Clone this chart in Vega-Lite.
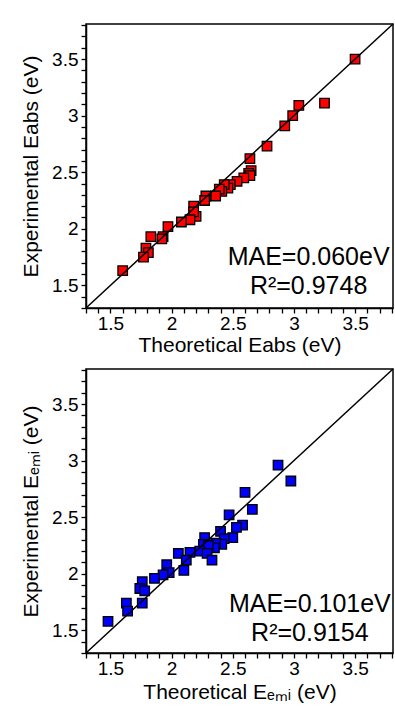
{
  "$schema": "https://vega.github.io/schema/vega-lite/v6.json",
  "autosize": {"type": "pad"},
  "padding": {"left": 19, "top": 15, "right": 2, "bottom": 2},
  "spacing": 4,
  "config": {
    "font": "Liberation Sans",
    "view": {"stroke": "black", "strokeWidth": 1.5},
    "axis": {
      "domainColor": "black", "domainWidth": 1.5,
      "tickColor": "black", "tickWidth": 1.3, "tickSize": 5,
      "labelFont": "Liberation Sans", "labelFontSize": 19, "labelColor": "black",
      "titleFont": "Liberation Sans", "titleFontSize": 21, "titleFontWeight": "normal", "titleColor": "black",
      "grid": false, "labelOverlap": false, "labelFlush": false, "labelBound": false, "tickCount": 100
    }
  },
  "vconcat": [
    {
      "width": 307,
      "height": 284,
      "layer": [
        {
          "data": {"values": [
            {"theoretical": 3.50, "experimental": 3.50},
            {"theoretical": 3.25, "experimental": 3.11},
            {"theoretical": 3.04, "experimental": 3.09},
            {"theoretical": 2.99, "experimental": 3.00},
            {"theoretical": 2.925, "experimental": 2.91},
            {"theoretical": 2.78, "experimental": 2.73},
            {"theoretical": 2.64, "experimental": 2.62},
            {"theoretical": 2.65, "experimental": 2.515},
            {"theoretical": 2.63, "experimental": 2.49},
            {"theoretical": 2.64, "experimental": 2.47},
            {"theoretical": 2.59, "experimental": 2.45},
            {"theoretical": 2.535, "experimental": 2.42},
            {"theoretical": 2.48, "experimental": 2.39},
            {"theoretical": 2.46, "experimental": 2.36},
            {"theoretical": 2.43, "experimental": 2.39},
            {"theoretical": 2.41, "experimental": 2.33},
            {"theoretical": 2.39, "experimental": 2.35},
            {"theoretical": 2.36, "experimental": 2.29},
            {"theoretical": 2.28, "experimental": 2.29},
            {"theoretical": 2.27, "experimental": 2.25},
            {"theoretical": 2.20, "experimental": 2.11},
            {"theoretical": 2.18, "experimental": 2.20},
            {"theoretical": 2.18, "experimental": 2.15},
            {"theoretical": 2.15, "experimental": 2.08},
            {"theoretical": 2.08, "experimental": 2.06},
            {"theoretical": 1.97, "experimental": 2.02},
            {"theoretical": 1.93, "experimental": 1.93},
            {"theoretical": 1.92, "experimental": 1.91},
            {"theoretical": 1.83, "experimental": 1.93},
            {"theoretical": 1.79, "experimental": 1.83},
            {"theoretical": 1.81, "experimental": 1.79},
            {"theoretical": 1.77, "experimental": 1.75},
            {"theoretical": 1.60, "experimental": 1.63}
          ]},
          "mark": {"type": "point", "shape": "square", "filled": true, "size": 90, "fill": "#ff0000", "stroke": "black", "strokeWidth": 1.3, "opacity": 1},
          "encoding": {
            "x": {"field": "theoretical", "type": "quantitative", "scale": {"domain": [1.3, 3.81], "nice": false, "zero": false},
                  "axis": {"title": "Theoretical Eabs (eV)", "labelPadding": 1, "titlePadding": 1, "labelOverlap": false, "tickCount": 100,
                           "values": [1.3, 1.4, 1.5, 1.6, 1.7, 1.8, 1.9, 2.0, 2.1, 2.2, 2.3, 2.4, 2.5, 2.6, 2.7, 2.8, 2.9, 3.0, 3.1, 3.2, 3.3, 3.4, 3.5, 3.6, 3.7, 3.8],
                           "labelExpr": "abs(datum.value * 2 - round(datum.value * 2)) < 0.001 ? '' + datum.value : ''"}},
            "y": {"field": "experimental", "type": "quantitative", "scale": {"domain": [1.3, 3.81], "nice": false, "zero": false},
                  "axis": {"title": "Experimental Eabs (eV)", "labelPadding": 3, "titlePadding": 10, "labelOverlap": false, "tickCount": 100,
                           "values": [1.3, 1.4, 1.5, 1.6, 1.7, 1.8, 1.9, 2.0, 2.1, 2.2, 2.3, 2.4, 2.5, 2.6, 2.7, 2.8, 2.9, 3.0, 3.1, 3.2, 3.3, 3.4, 3.5, 3.6, 3.7, 3.8],
                           "labelExpr": "abs(datum.value * 2 - round(datum.value * 2)) < 0.001 ? '' + datum.value : ''"}}
          }
        },
        {
          "data": {"values": [{}]},
          "mark": {"type": "rule", "color": "black", "strokeWidth": 1.5},
          "encoding": {
            "x": {"datum": 1.3, "type": "quantitative"},
            "y": {"datum": 1.3, "type": "quantitative"},
            "x2": {"datum": 3.81},
            "y2": {"datum": 3.81}
          }
        },
        {
          "data": {"values": [{}]},
          "mark": {"type": "text", "fontSize": 25, "font": "Liberation Sans", "align": "center", "baseline": "alphabetic", "color": "black"},
          "encoding": {
            "x": {"datum": 3.12, "type": "quantitative"},
            "y": {"datum": 1.68, "type": "quantitative"},
            "text": {"value": "MAE=0.060eV"}
          }
        },
        {
          "data": {"values": [{}]},
          "mark": {"type": "text", "fontSize": 25, "font": "Liberation Sans", "align": "center", "baseline": "alphabetic", "color": "black"},
          "encoding": {
            "x": {"datum": 3.12, "type": "quantitative"},
            "y": {"datum": 1.42, "type": "quantitative"},
            "text": {"value": "R²=0.9748"}
          }
        }
      ]
    },
    {
      "width": 307,
      "height": 284,
      "layer": [
        {
          "data": {"values": [
            {"theoretical": 2.87, "experimental": 2.96},
            {"theoretical": 2.975, "experimental": 2.82},
            {"theoretical": 2.60, "experimental": 2.72},
            {"theoretical": 2.66, "experimental": 2.57},
            {"theoretical": 2.47, "experimental": 2.52},
            {"theoretical": 2.58, "experimental": 2.43},
            {"theoretical": 2.53, "experimental": 2.41},
            {"theoretical": 2.50, "experimental": 2.32},
            {"theoretical": 2.40, "experimental": 2.375},
            {"theoretical": 2.43, "experimental": 2.31},
            {"theoretical": 2.41, "experimental": 2.26},
            {"theoretical": 2.36, "experimental": 2.27},
            {"theoretical": 2.35, "experimental": 2.23},
            {"theoretical": 2.27, "experimental": 2.32},
            {"theoretical": 2.26, "experimental": 2.26},
            {"theoretical": 2.30, "experimental": 2.25},
            {"theoretical": 2.23, "experimental": 2.20},
            {"theoretical": 2.29, "experimental": 2.18},
            {"theoretical": 2.33, "experimental": 2.12},
            {"theoretical": 2.15, "experimental": 2.19},
            {"theoretical": 2.055, "experimental": 2.18},
            {"theoretical": 2.12, "experimental": 2.12},
            {"theoretical": 2.10, "experimental": 2.03},
            {"theoretical": 1.96, "experimental": 2.08},
            {"theoretical": 1.98, "experimental": 2.01},
            {"theoretical": 1.93, "experimental": 1.99},
            {"theoretical": 1.86, "experimental": 1.96},
            {"theoretical": 1.76, "experimental": 1.93},
            {"theoretical": 1.74, "experimental": 1.87},
            {"theoretical": 1.78, "experimental": 1.85},
            {"theoretical": 1.76, "experimental": 1.74},
            {"theoretical": 1.63, "experimental": 1.74},
            {"theoretical": 1.64, "experimental": 1.67},
            {"theoretical": 1.48, "experimental": 1.58}
          ]},
          "mark": {"type": "point", "shape": "square", "filled": true, "size": 90, "fill": "#0000ff", "stroke": "black", "strokeWidth": 1.3, "opacity": 1},
          "encoding": {
            "x": {"field": "theoretical", "type": "quantitative", "scale": {"domain": [1.3, 3.81], "nice": false, "zero": false},
                  "axis": {"title": "Theoretical Eₑₘᵢ (eV)", "labelPadding": 1, "titlePadding": 3, "labelOverlap": false, "tickCount": 100,
                           "values": [1.3, 1.4, 1.5, 1.6, 1.7, 1.8, 1.9, 2.0, 2.1, 2.2, 2.3, 2.4, 2.5, 2.6, 2.7, 2.8, 2.9, 3.0, 3.1, 3.2, 3.3, 3.4, 3.5, 3.6, 3.7, 3.8],
                           "labelExpr": "abs(datum.value * 2 - round(datum.value * 2)) < 0.001 ? '' + datum.value : ''"}},
            "y": {"field": "experimental", "type": "quantitative", "scale": {"domain": [1.3, 3.81], "nice": false, "zero": false},
                  "axis": {"title": "Experimental Eₑₘᵢ (eV)", "labelPadding": 3, "titlePadding": 10, "labelOverlap": false, "tickCount": 100,
                           "values": [1.3, 1.4, 1.5, 1.6, 1.7, 1.8, 1.9, 2.0, 2.1, 2.2, 2.3, 2.4, 2.5, 2.6, 2.7, 2.8, 2.9, 3.0, 3.1, 3.2, 3.3, 3.4, 3.5, 3.6, 3.7, 3.8],
                           "labelExpr": "abs(datum.value * 2 - round(datum.value * 2)) < 0.001 ? '' + datum.value : ''"}}
          }
        },
        {
          "data": {"values": [{}]},
          "mark": {"type": "rule", "color": "black", "strokeWidth": 1.5},
          "encoding": {
            "x": {"datum": 1.3, "type": "quantitative"},
            "y": {"datum": 1.3, "type": "quantitative"},
            "x2": {"datum": 3.81},
            "y2": {"datum": 3.81}
          }
        },
        {
          "data": {"values": [{}]},
          "mark": {"type": "text", "fontSize": 25, "font": "Liberation Sans", "align": "center", "baseline": "alphabetic", "color": "black"},
          "encoding": {
            "x": {"datum": 3.13, "type": "quantitative"},
            "y": {"datum": 1.66, "type": "quantitative"},
            "text": {"value": "MAE=0.101eV"}
          }
        },
        {
          "data": {"values": [{}]},
          "mark": {"type": "text", "fontSize": 25, "font": "Liberation Sans", "align": "center", "baseline": "alphabetic", "color": "black"},
          "encoding": {
            "x": {"datum": 3.13, "type": "quantitative"},
            "y": {"datum": 1.41, "type": "quantitative"},
            "text": {"value": "R²=0.9154"}
          }
        }
      ]
    }
  ]
}
